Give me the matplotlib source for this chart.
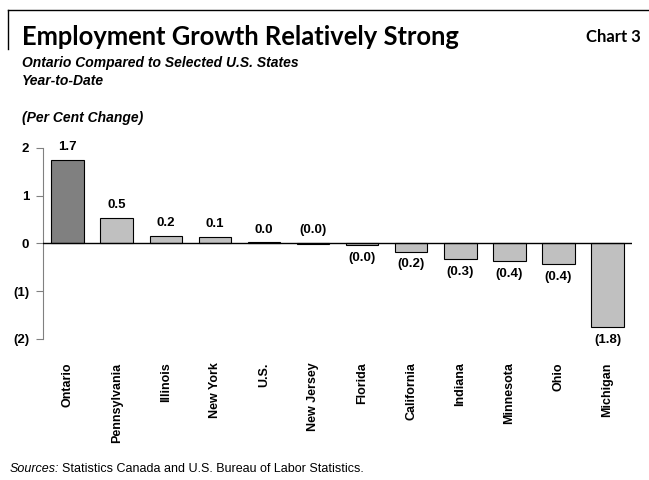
import matplotlib.pyplot as plt
from matplotlib.lines import Line2D

regions = ['Ontario', 'Pennsylvania', 'Illinois', 'New York', 'U.S.', 'New Jersey',
           'Florida', 'California', 'Indiana', 'Minnesota', 'Ohio', 'Michigan']
growth = [1.74, 0.53, 0.16, 0.13, 0.02, -0.002, -0.04, -0.17, -0.33, -0.36, -0.43, -1.75]
y_ticks = [-2, -1, 0, 1, 2]
y_tick_labels = ['(2)', '(1)', '0', '1', '2']

plt.rcParams['font.family'] = ['Liberation Sans', 'DejaVu Sans']

fig = plt.figure(figsize=(6.49, 4.80), dpi=100)
ax = fig.add_axes([0.0663, 0.294, 0.9077, 0.3977])

colors = ['#808080'] + ['#c0c0c0'] * (len(regions) - 1)
x = range(len(regions))
ax.bar(x, growth, width=0.66, color=colors, edgecolor='black', linewidth=0.8, zorder=2)
ax.axhline(0, color='black', linewidth=1, zorder=3)


def fmt(v):
    s = '%.1f' % abs(v)
    return '(%s)' % s if v < 0 else s


for i, v in enumerate(growth):
    if v > -0.01:
        ax.annotate(fmt(v), (i, max(v, 0)), xytext=(0, 5), textcoords='offset points',
                    ha='center', va='bottom', fontsize=9.5, fontweight='bold')
    else:
        ax.annotate(fmt(v), (i, v), xytext=(0, -5), textcoords='offset points',
                    ha='center', va='top', fontsize=9.5, fontweight='bold')

ax.set_xlim(-0.5, len(regions) - 0.5)
ax.set_ylim(-2, 2)
ax.set_yticks(y_ticks)
ax.set_yticklabels(y_tick_labels, fontsize=9.5, fontweight='bold')
ax.set_xticks(list(x))
ax.set_xticklabels(regions, rotation=90, fontsize=9, fontweight='bold')
ax.tick_params(axis='x', length=0, pad=17)
ax.tick_params(axis='y', direction='out', length=5, color='#808080', pad=5)
for s in ['top', 'right', 'bottom']:
    ax.spines[s].set_visible(False)
ax.spines['left'].set_color('#808080')

# frame lines at top
fig.add_artist(Line2D([8 / 649, 1], [1 - 10 / 480] * 2, color='black', linewidth=1))
fig.add_artist(Line2D([8 / 649] * 2, [1 - 10 / 480, 1 - 49 / 480], color='black', linewidth=1))

fig.text(22 / 649, 1 - 37 / 480, 'Employment Growth Relatively Strong', family=['Lato', 'DejaVu Sans'],
         fontsize=18.4, fontweight='bold', va='center', ha='left')
fig.text(641 / 649, 1 - 37 / 480, 'Chart 3', family=['Lato', 'DejaVu Sans'],
         fontsize=12, fontweight='bold', va='center', ha='right')
fig.text(22 / 649, 1 - 63 / 480, 'Ontario Compared to Selected U.S. States',
         fontsize=10, fontweight='bold', style='italic', va='center')
fig.text(22 / 649, 1 - 81 / 480, 'Year-to-Date',
         fontsize=10, fontweight='bold', style='italic', va='center')
fig.text(22 / 649, 1 - 118 / 480, '(Per Cent Change)',
         fontsize=10, fontweight='bold', style='italic', va='center')

t1 = fig.text(10 / 649, 1 - 469 / 480, 'Sources:', fontsize=9, style='italic', va='center')
fig.canvas.draw()
bb = t1.get_window_extent()
fig.text((bb.x1 + 3) / 649, 1 - 469 / 480, 'Statistics Canada and U.S. Bureau of Labor Statistics.',
         fontsize=9, va='center')

fig.savefig('out.png', dpi=100)
